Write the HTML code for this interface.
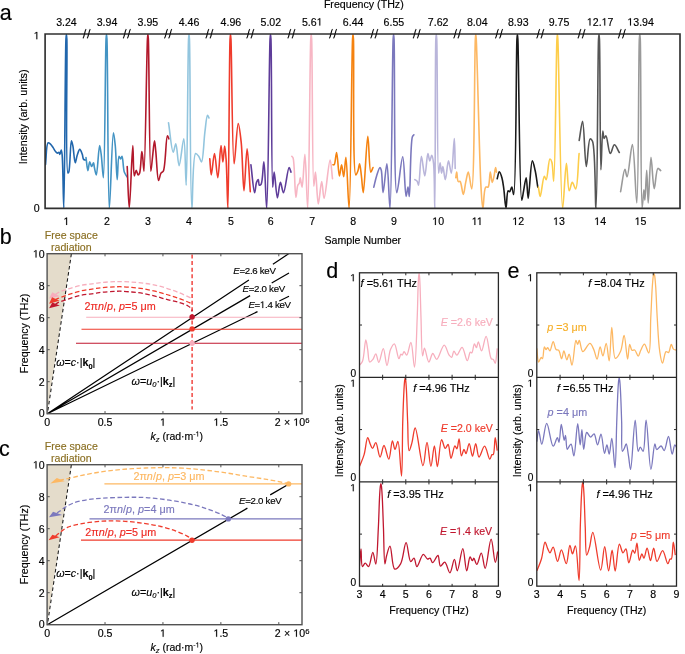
<!DOCTYPE html>
<html><head><meta charset="utf-8"><style>
html,body{margin:0;padding:0;background:#fff;}
svg{display:block;will-change:transform;}
.o1{fill-opacity:0;stroke-opacity:0;}
text{font-family:"Liberation Sans",sans-serif;stroke-width:0.15px;}
</style></head><body>
<svg width="685" height="654" viewBox="0 0 685 654">
<rect width="685" height="654" fill="#fff"/>
<defs><clipPath id="cd"><rect x="359.5" y="272.8" width="138.9" height="313.4"/></clipPath><clipPath id="ce"><rect x="536.8" y="272.8" width="139.7" height="313.4"/></clipPath></defs>
<g clip-path="url(#cd)" fill="none" stroke-width="1.3" stroke-linejoin="round">
<path d="M359.60 365.20 C360.57 363.90 361.68 363.27 362.50 361.30 C364.24 357.14 364.80 339.92 365.80 339.90 C366.48 339.89 367.09 346.16 367.70 349.60 C368.39 353.47 368.27 361.46 369.70 362.00 C370.52 362.31 371.96 360.55 372.90 359.40 C374.06 357.97 374.89 353.74 375.80 353.80 C376.89 353.88 377.72 362.41 378.80 362.40 C380.17 362.39 381.98 348.53 383.30 348.60 C384.74 348.67 385.78 365.50 387.00 365.50 C388.18 365.50 388.84 353.48 390.50 349.60 C391.59 347.06 393.22 343.62 394.40 343.80 C396.16 344.07 397.60 358.62 398.90 358.70 C399.63 358.75 400.17 354.40 400.90 354.20 C401.31 354.08 401.78 355.20 402.20 355.10 C402.87 354.94 403.37 351.65 404.10 351.60 C404.86 351.55 405.86 355.23 406.70 355.10 C408.17 354.86 409.72 342.40 410.90 342.50 C412.52 342.64 413.53 367.24 414.50 367.20 C415.86 367.14 416.59 332.36 417.20 317.80 C417.68 306.27 417.78 294.51 418.10 286.80 C418.29 282.20 418.44 278.13 418.70 275.80 C418.82 274.70 418.97 273.40 419.10 273.40 C419.23 273.40 419.38 274.70 419.50 275.80 C419.76 278.13 419.91 282.20 420.10 286.80 C420.42 294.51 420.61 306.94 421.00 317.80 C421.43 329.85 421.49 355.79 422.60 355.90 C423.11 355.95 423.68 348.12 424.50 348.10 C425.60 348.07 427.24 361.89 428.80 362.00 C430.05 362.09 431.38 353.60 432.80 353.50 C434.03 353.41 435.26 359.47 436.70 359.40 C438.88 359.29 441.99 345.07 444.20 345.10 C446.03 345.13 447.52 353.02 449.10 355.10 C449.98 356.26 450.97 357.59 451.70 357.40 C452.70 357.14 452.94 351.35 453.90 351.20 C454.73 351.07 455.79 355.14 456.90 355.10 C458.43 355.05 460.52 347.13 462.10 347.30 C464.06 347.51 465.83 360.72 467.30 360.70 C468.46 360.68 469.18 352.67 470.30 352.20 C470.78 352.00 471.34 353.11 471.80 352.90 C472.90 352.40 473.47 343.89 474.40 343.80 C475.04 343.74 475.79 347.75 476.40 347.70 C477.12 347.64 477.56 341.81 478.30 341.80 C479.23 341.78 480.46 350.93 481.60 350.90 C483.03 350.87 484.64 336.35 486.10 336.40 C487.89 336.46 489.22 356.38 491.30 358.70 C491.93 359.41 492.73 358.89 493.30 359.40 C494.12 360.13 494.66 363.39 495.20 363.30 C496.20 363.14 496.53 353.30 497.20 348.30" stroke="#f7aebd"/>
<path d="M359.60 466.30 C361.10 462.40 362.82 458.91 364.10 454.60 C365.60 449.54 366.40 437.81 367.70 437.70 C368.53 437.63 369.40 442.29 370.30 444.20 C371.04 445.78 371.77 448.40 372.60 448.40 C373.57 448.41 374.78 442.59 375.80 442.70 C377.34 442.87 378.66 456.97 380.10 457.00 C381.40 457.02 382.62 445.51 384.00 445.50 C385.51 445.49 387.45 459.30 388.80 459.20 C390.32 459.09 391.17 441.06 392.40 441.00 C393.25 440.96 394.07 449.38 395.00 449.40 C395.91 449.42 397.06 441.30 397.90 441.40 C399.61 441.61 400.69 476.13 401.50 476.10 C402.51 476.06 402.26 437.82 402.73 422.35 C403.09 410.60 403.48 399.06 403.90 391.35 C404.15 386.75 404.35 382.68 404.68 380.35 C404.84 379.25 405.03 377.95 405.20 377.95 C405.37 377.95 405.56 379.25 405.72 380.35 C406.05 382.68 406.25 386.75 406.50 391.35 C406.92 399.06 407.22 412.25 407.67 422.35 C408.10 432.01 407.81 450.51 409.10 450.70 C409.80 450.80 411.02 445.95 411.90 442.90 C413.10 438.76 413.89 427.99 415.20 428.00 C417.28 428.01 420.91 465.74 423.00 465.70 C424.64 465.67 425.69 442.29 427.00 442.30 C428.32 442.31 429.62 466.29 430.90 466.30 C432.08 466.30 433.32 445.79 434.40 445.80 C435.49 445.81 436.29 466.59 437.40 466.60 C438.66 466.61 439.80 439.92 441.60 439.70 C442.66 439.57 443.92 448.24 445.20 448.40 C446.12 448.51 447.28 444.32 448.10 444.50 C449.50 444.81 449.84 458.24 451.00 458.30 C452.12 458.35 453.62 445.98 454.90 445.80 C455.57 445.70 456.32 448.91 456.90 448.80 C457.88 448.62 458.43 438.77 459.10 438.80 C459.97 438.84 460.27 455.76 461.40 455.90 C462.12 455.99 463.16 449.43 464.00 449.40 C464.68 449.38 465.32 453.65 466.00 453.60 C467.03 453.53 468.17 443.57 469.20 443.60 C470.35 443.63 471.42 456.20 472.50 456.20 C473.58 456.20 474.63 443.60 475.70 443.60 C476.80 443.60 477.44 456.81 479.00 457.00 C480.46 457.17 482.85 446.11 484.60 446.20 C486.47 446.29 488.39 459.15 489.80 459.20 C490.65 459.23 491.18 455.11 492.00 454.60 C492.41 454.34 492.92 454.94 493.30 454.60 C494.67 453.38 494.50 437.71 495.20 437.70 C495.82 437.69 496.53 446.37 497.20 450.70" stroke="#ef3b2c"/>
<path d="M359.30 567.50 C359.87 561.33 360.48 549.00 361.00 549.00 C361.51 549.00 361.00 566.16 362.40 566.60 C363.10 566.82 364.19 563.25 365.20 563.20 C366.25 563.15 367.59 566.86 368.60 566.60 C370.38 566.15 371.55 552.28 372.80 552.30 C373.93 552.32 374.99 564.17 375.80 564.10 C377.20 563.97 377.70 539.66 378.33 528.10 C378.92 517.39 379.12 504.81 379.55 497.10 C379.81 492.50 380.01 488.43 380.36 486.10 C380.52 485.00 380.72 483.70 380.90 483.70 C381.08 483.70 381.28 485.00 381.44 486.10 C381.79 488.43 381.99 492.50 382.25 497.10 C382.68 504.81 383.04 517.40 383.46 528.10 C383.92 539.58 383.95 563.72 384.90 563.80 C385.36 563.84 385.82 558.49 386.60 555.70 C387.47 552.61 388.91 546.02 390.00 546.10 C391.66 546.22 391.98 568.20 394.70 569.10 C396.28 569.62 398.96 566.50 400.60 563.80 C403.33 559.31 404.37 542.59 406.10 542.60 C407.73 542.61 408.70 561.05 410.70 561.60 C411.69 561.87 413.07 557.99 414.00 558.20 C415.28 558.48 415.60 566.50 416.90 566.60 C418.52 566.72 421.20 554.56 423.30 554.30 C424.72 554.12 426.17 558.64 427.50 559.00 C428.36 559.23 429.26 557.91 430.00 558.20 C431.05 558.60 431.60 562.66 432.60 562.70 C433.80 562.74 435.74 557.73 436.80 556.50 C437.31 555.90 437.70 555.17 438.10 555.30 C439.10 555.61 439.02 565.64 440.50 566.10 C441.57 566.43 443.46 561.85 444.80 562.10 C446.70 562.46 448.36 572.89 449.90 572.80 C451.59 572.70 453.13 559.35 454.40 559.40 C455.56 559.44 456.19 570.80 457.30 570.80 C458.85 570.80 461.23 548.55 462.80 548.60 C464.36 548.65 465.33 570.75 466.70 570.80 C467.79 570.84 468.80 557.21 470.10 557.00 C470.82 556.89 471.74 560.72 472.40 560.70 C472.94 560.69 473.26 558.18 473.80 558.20 C474.63 558.22 475.74 564.44 476.80 564.40 C478.20 564.35 479.97 553.11 481.30 553.20 C482.82 553.30 483.85 568.34 485.20 568.30 C487.07 568.25 489.34 539.18 491.10 539.20 C492.67 539.22 494.04 562.38 495.30 562.40 C496.17 562.42 496.90 555.13 497.70 551.50" stroke="#c0172f"/>
</g>
<g clip-path="url(#ce)" fill="none" stroke-width="1.3" stroke-linejoin="round">
<path d="M536.80 348.30 C537.40 352.87 537.50 361.79 538.60 362.00 C539.28 362.13 540.42 357.51 541.20 357.40 C541.66 357.34 542.12 358.82 542.50 358.70 C543.48 358.38 543.50 346.96 544.40 346.80 C544.86 346.72 545.41 349.54 546.00 349.60 C546.52 349.66 547.12 347.66 547.70 347.70 C548.41 347.75 549.18 350.99 549.90 350.90 C551.04 350.75 552.13 341.60 553.20 341.60 C554.19 341.60 554.77 348.37 556.10 349.60 C556.85 350.29 557.95 349.60 558.70 350.30 C560.06 351.57 560.72 358.72 561.60 358.70 C562.44 358.68 563.07 350.91 563.90 350.90 C564.79 350.89 565.84 359.76 566.80 359.80 C567.57 359.83 568.36 354.15 569.10 354.20 C570.12 354.27 571.07 365.25 572.00 365.20 C573.38 365.13 574.55 340.67 575.90 340.50 C576.46 340.43 577.03 344.40 577.60 344.40 C578.17 344.40 578.68 340.47 579.30 340.50 C580.32 340.55 580.98 351.22 582.80 351.60 C584.56 351.96 587.96 343.25 589.90 343.40 C591.49 343.52 592.66 347.25 593.80 349.60 C595.12 352.34 596.10 359.05 597.10 359.00 C598.22 358.95 599.06 346.83 600.10 346.80 C601.00 346.77 601.96 355.92 602.90 355.90 C604.00 355.88 605.21 343.26 606.20 343.30 C607.36 343.35 608.35 360.94 609.20 360.90 C610.36 360.85 610.76 327.52 611.80 327.50 C612.80 327.48 612.74 357.61 615.30 358.30 C616.67 358.67 619.22 354.22 620.60 351.20 C622.47 347.12 623.03 335.36 624.10 335.40 C625.41 335.45 626.59 359.10 627.60 359.10 C628.39 359.10 628.71 344.62 629.70 344.50 C630.34 344.42 630.87 349.62 632.00 350.30 C632.74 350.75 633.87 349.58 634.70 350.00 C636.04 350.68 637.16 356.15 638.20 356.10 C639.18 356.05 639.80 352.23 640.80 350.30 C641.85 348.26 643.18 344.16 644.40 344.20 C645.84 344.25 647.72 353.22 648.80 353.00 C650.84 352.58 650.17 329.16 650.77 317.80 C651.33 307.14 651.75 294.51 652.30 286.80 C652.63 282.20 652.89 278.12 653.32 275.80 C653.53 274.70 653.77 273.40 654.00 273.40 C654.23 273.40 654.47 274.70 654.68 275.80 C655.11 278.12 655.37 282.20 655.70 286.80 C656.25 294.51 656.58 307.28 657.23 317.80 C657.90 328.73 658.43 342.89 659.70 351.20 C660.47 356.24 661.44 363.17 662.50 363.20 C663.55 363.23 664.42 352.36 666.00 351.60 C666.74 351.24 667.78 352.93 668.50 352.60 C669.79 352.01 670.38 344.54 671.30 344.50 C672.01 344.47 672.38 348.14 673.40 349.10 C674.22 349.88 675.47 349.90 676.50 350.30" stroke="#fdb863"/>
<path d="M536.80 441.60 C537.40 437.93 537.83 430.63 538.60 430.60 C539.46 430.57 540.62 444.20 541.80 444.20 C543.26 444.20 544.86 423.44 546.70 423.40 C548.64 423.36 551.00 446.00 553.20 446.20 C554.59 446.33 556.38 437.64 557.40 437.70 C558.13 437.75 558.51 442.35 559.00 442.30 C559.94 442.20 560.40 424.52 561.30 424.50 C562.15 424.48 563.36 440.27 564.20 440.30 C564.67 440.32 565.10 435.37 565.50 435.40 C566.16 435.45 566.20 449.17 567.20 449.40 C567.67 449.51 568.27 447.65 568.90 446.80 C569.56 445.91 570.45 444.05 571.10 444.20 C572.32 444.49 573.03 455.95 573.90 455.90 C575.33 455.82 576.57 423.70 577.70 423.70 C578.62 423.70 579.46 444.90 580.20 444.90 C580.83 444.90 581.35 429.69 581.90 429.70 C582.52 429.71 582.85 449.36 583.70 449.40 C584.49 449.43 584.95 432.97 586.70 432.50 C587.74 432.22 589.30 437.03 590.60 437.10 C591.76 437.17 593.10 433.54 594.10 433.80 C595.65 434.21 596.34 444.89 597.50 444.90 C598.64 444.91 599.95 434.03 601.00 434.10 C602.37 434.19 603.32 453.24 604.50 453.30 C605.29 453.34 606.13 444.79 606.90 444.80 C607.70 444.81 608.48 454.13 609.20 454.10 C610.14 454.06 610.97 438.28 611.80 438.30 C612.93 438.33 614.20 467.73 615.00 467.70 C615.99 467.67 616.21 436.03 616.73 422.35 C617.16 411.04 617.48 399.06 617.90 391.35 C618.15 386.75 618.35 382.68 618.68 380.35 C618.84 379.25 619.03 377.95 619.20 377.95 C619.37 377.95 619.56 379.25 619.72 380.35 C620.05 382.68 620.25 386.75 620.50 391.35 C620.92 399.06 621.35 412.19 621.67 422.35 C621.98 432.16 621.02 450.89 622.40 451.30 C622.85 451.43 623.55 449.80 624.10 448.80 C624.83 447.47 625.58 443.83 626.20 443.90 C627.14 444.00 627.78 451.78 628.50 455.90 C629.26 460.26 629.86 469.42 630.60 469.40 C632.00 469.36 633.82 420.10 635.20 420.10 C636.30 420.10 636.62 451.01 638.20 451.30 C638.81 451.41 639.50 447.15 640.30 447.10 C641.13 447.05 642.32 451.50 643.10 451.30 C645.05 450.81 644.98 420.10 646.10 420.10 C647.51 420.10 649.16 469.35 650.90 469.40 C652.16 469.44 653.62 444.00 654.90 443.90 C655.51 443.85 655.64 449.18 656.70 449.50 C657.73 449.81 659.85 445.81 661.10 446.00 C662.34 446.19 663.23 450.75 664.20 450.60 C665.79 450.36 667.22 436.44 668.50 436.50 C669.92 436.56 671.00 454.06 672.20 454.10 C673.08 454.13 673.85 444.95 674.80 444.80 C675.34 444.72 675.93 446.53 676.50 447.40" stroke="#7b78bd"/>
<path d="M536.90 570.75 C538.41 566.85 540.14 563.36 541.43 559.05 C542.94 553.99 543.74 542.26 545.05 542.15 C545.88 542.08 546.76 546.74 547.66 548.65 C548.41 550.23 549.14 552.85 549.98 552.85 C550.96 552.86 552.17 547.04 553.19 547.15 C554.74 547.32 556.07 561.42 557.52 561.45 C558.82 561.47 560.06 549.96 561.44 549.95 C562.96 549.94 564.91 563.75 566.27 563.65 C567.80 563.54 568.65 545.52 569.89 545.45 C570.74 545.40 571.57 553.83 572.50 553.85 C573.42 553.87 574.57 545.75 575.42 545.85 C577.14 546.06 578.22 580.58 579.04 580.55 C580.06 580.51 579.82 542.34 580.29 526.90 C580.65 515.16 581.04 503.61 581.46 495.90 C581.71 491.30 581.91 487.23 582.24 484.90 C582.40 483.80 582.59 482.50 582.76 482.50 C582.93 482.50 583.12 483.80 583.28 484.90 C583.61 487.23 583.81 491.30 584.06 495.90 C584.48 503.61 584.78 516.81 585.23 526.90 C585.66 536.54 585.39 554.96 586.69 555.15 C587.39 555.25 588.62 550.40 589.50 547.35 C590.70 543.21 591.51 532.44 592.82 532.45 C594.91 532.46 598.56 570.19 600.67 570.15 C602.32 570.12 603.37 546.74 604.69 546.75 C606.02 546.76 607.32 570.74 608.61 570.75 C609.80 570.75 611.04 550.24 612.13 550.25 C613.22 550.26 614.03 571.04 615.15 571.05 C616.42 571.06 617.56 544.37 619.37 544.15 C620.44 544.02 621.70 552.69 622.99 552.85 C623.92 552.97 625.09 548.77 625.91 548.95 C627.31 549.26 627.66 562.69 628.83 562.75 C629.95 562.80 631.46 550.44 632.75 550.25 C633.43 550.15 634.18 553.36 634.76 553.25 C635.74 553.06 636.30 543.22 636.97 543.25 C637.85 543.29 638.15 560.21 639.29 560.35 C640.01 560.44 641.06 553.88 641.90 553.85 C642.59 553.83 643.23 558.10 643.91 558.05 C644.95 557.98 646.10 548.02 647.13 548.05 C648.28 548.08 649.36 560.65 650.45 560.65 C651.54 560.65 652.60 548.05 653.67 548.05 C654.78 548.05 655.42 561.26 656.99 561.45 C658.46 561.63 660.86 550.56 662.62 550.65 C664.50 550.74 666.43 563.60 667.85 563.65 C668.71 563.68 669.24 559.57 670.06 559.05 C670.48 558.79 670.99 559.39 671.37 559.05 C672.74 557.83 672.58 542.16 673.28 542.15 C673.90 542.14 674.62 550.82 675.29 555.15" stroke="#ef3b2c"/>
</g>
<defs><clipPath id="ca"><rect x="45.1" y="34.0" width="634.9" height="175.1"/></clipPath></defs>
<g clip-path="url(#ca)" fill="none" stroke-width="1.6" stroke-linejoin="round" stroke-linecap="round">
<path d="M45.50 164.70 C46.37 157.40 46.19 143.79 48.10 142.80 C48.77 142.45 49.74 143.44 50.50 144.10 C51.50 144.97 52.44 146.62 53.30 147.90 C54.13 149.13 54.80 150.68 55.60 151.60 C56.18 152.27 56.81 153.05 57.40 153.10 C57.91 153.14 58.50 152.08 58.90 152.20 C59.37 152.35 59.57 154.42 59.90 154.40 C60.35 154.37 60.83 150.08 61.20 150.10 C61.56 150.12 61.83 152.15 62.10 154.40 C63.04 162.27 63.29 208.00 63.80 208.00 C64.70 207.99 65.08 55.10 65.95 39.00 C66.10 36.31 66.25 34.30 66.40 34.30 C66.55 34.30 66.71 36.36 66.85 39.00 C67.58 53.09 65.15 171.96 67.90 173.00 C68.18 173.10 68.52 172.65 68.80 172.00 C70.15 168.88 70.30 140.91 71.40 140.80 C71.86 140.75 72.42 143.75 72.90 146.00 C73.74 149.98 74.30 162.74 75.20 162.80 C75.81 162.84 76.38 157.62 77.20 155.30 C77.94 153.18 78.92 149.42 79.80 149.40 C80.62 149.38 81.66 152.70 82.30 154.40 C82.91 156.04 82.82 158.57 83.60 159.40 C84.07 159.91 84.80 159.80 85.40 160.00" stroke="#2166ac"/>
<path d="M86.00 157.60 C86.63 161.93 87.21 170.58 87.90 170.60 C88.46 170.62 88.96 161.97 89.70 161.90 C90.25 161.85 90.94 166.47 91.60 166.50 C92.21 166.53 93.04 162.73 93.50 162.80 C94.00 162.87 94.01 165.76 94.40 167.50 C94.89 169.69 95.69 174.94 96.30 174.90 C97.50 174.82 98.58 145.63 99.60 145.60 C100.19 145.58 100.77 151.39 101.30 155.30 C102.09 161.21 102.80 177.72 103.40 177.70 C104.89 177.64 105.23 53.37 106.05 39.00 C106.20 36.35 106.35 34.30 106.50 34.30 C106.65 34.30 106.80 36.31 106.95 39.00 C107.83 55.13 107.76 208.47 109.30 208.50 C110.33 208.52 111.93 132.97 113.40 132.90 C114.02 132.87 114.76 140.61 115.30 146.00 C116.16 154.60 116.52 179.59 117.20 179.60 C117.77 179.61 117.83 156.56 119.00 156.30 C119.42 156.21 120.00 159.00 120.50 159.00 C121.00 159.00 121.55 156.22 122.00 156.30 C123.02 156.49 123.04 168.46 124.30 172.10 C125.03 174.22 126.10 175.23 127.00 176.80" stroke="#4393c3"/>
<path d="M127.20 166.50 C127.90 180.33 128.49 208.00 129.30 208.00 C130.30 208.00 131.90 145.60 132.80 145.60 C133.43 145.60 133.15 175.74 134.30 175.90 C134.81 175.97 135.54 170.32 136.20 170.30 C136.81 170.28 137.41 174.79 138.10 174.90 C138.57 174.97 139.16 174.14 139.60 173.10 C140.92 169.95 141.16 151.62 141.80 151.60 C142.13 151.59 142.41 154.91 142.70 157.20 C143.16 160.81 143.58 171.21 144.00 171.20 C145.28 171.16 146.60 52.98 147.45 39.00 C147.61 36.36 147.75 34.30 147.90 34.30 C148.05 34.30 148.20 36.36 148.35 39.00 C149.15 52.98 149.26 171.12 150.80 171.20 C151.32 171.23 151.99 161.32 152.60 156.30 C153.22 151.18 153.93 140.80 154.50 140.80 C154.98 140.80 155.31 147.13 155.80 151.60 C156.59 158.91 157.26 180.35 158.60 180.50 C159.29 180.58 159.93 174.67 161.00 173.10 C161.66 172.12 162.62 172.46 163.30 171.20 C165.67 166.85 165.86 135.95 167.40 135.70 C167.88 135.62 168.40 137.83 168.90 138.90" stroke="#b2182b"/>
<path d="M168.50 122.70 C170.07 132.53 171.61 152.09 173.20 152.20 C174.06 152.26 175.00 143.74 175.80 143.80 C177.07 143.90 177.85 165.59 179.10 165.60 C180.48 165.62 182.65 138.83 183.80 138.90 C185.31 138.99 185.53 185.21 186.20 185.20 C187.39 185.18 187.72 53.81 188.55 39.00 C188.70 36.34 188.85 34.30 189.00 34.30 C189.15 34.30 189.30 36.31 189.45 39.00 C190.33 55.10 190.10 207.95 191.80 208.00 C192.77 208.03 192.40 154.79 195.60 153.50 C196.49 153.14 197.79 155.10 198.70 156.30 C199.82 157.77 200.70 162.04 201.50 161.90 C203.26 161.59 203.76 140.53 204.90 132.00 C205.76 125.59 206.43 115.38 207.50 115.20 C207.96 115.12 208.50 117.07 209.00 118.00" stroke="#92c5de"/>
<path d="M209.80 158.70 C210.30 164.10 210.60 174.88 211.30 174.90 C212.10 174.92 213.45 153.49 214.50 153.50 C215.62 153.51 216.78 177.72 217.80 177.70 C218.97 177.68 220.04 145.61 221.00 145.60 C221.69 145.59 222.28 161.90 222.90 161.90 C223.51 161.90 224.14 146.00 224.70 146.00 C225.24 146.00 225.77 154.52 226.20 160.90 C226.97 172.28 227.40 208.51 227.90 208.50 C228.85 208.49 229.18 55.13 230.05 39.00 C230.20 36.31 230.35 34.30 230.50 34.30 C230.65 34.30 230.79 36.37 230.95 39.00 C231.77 52.51 232.19 163.63 234.10 163.70 C235.19 163.74 236.78 123.64 238.20 123.60 C239.17 123.57 240.36 134.58 241.20 142.30 C242.54 154.66 242.98 190.79 244.00 190.80 C244.95 190.81 246.06 148.80 247.10 148.80 C248.16 148.80 249.23 177.40 250.30 191.70" stroke="#ef3b2c"/>
<path d="M250.90 164.70 C252.13 174.03 253.49 192.67 254.60 192.70 C255.28 192.72 255.59 184.70 256.50 182.40 C257.01 181.11 257.85 179.51 258.30 179.60 C258.89 179.72 258.54 184.82 259.30 185.20 C259.75 185.43 260.57 185.04 261.10 184.30 C262.86 181.81 263.08 161.87 263.90 161.90 C265.07 161.94 265.89 208.52 266.70 208.50 C268.25 208.47 269.12 55.13 270.05 39.00 C270.21 36.31 270.35 34.30 270.50 34.30 C270.65 34.30 270.81 36.34 270.95 39.00 C271.75 53.92 271.37 187.04 272.70 187.10 C273.12 187.12 273.57 172.11 274.20 172.10 C275.03 172.09 276.21 197.86 277.40 197.90 C278.33 197.93 279.26 182.46 280.40 182.40 C281.34 182.35 282.40 192.74 283.50 192.70 C285.21 192.64 287.53 167.64 289.10 167.50 C289.79 167.44 290.37 170.57 291.00 172.10" stroke="#5e3c99"/>
<path d="M291.80 156.30 C292.23 156.90 292.71 157.02 293.10 158.10 C294.75 162.65 294.84 197.26 295.90 197.30 C296.49 197.33 296.83 187.43 297.80 185.20 C298.23 184.21 298.92 184.16 299.30 183.30 C299.88 181.98 299.82 177.71 300.20 177.70 C300.70 177.69 301.51 187.13 302.10 187.10 C303.19 187.04 304.06 154.39 304.90 154.40 C305.98 154.42 306.90 208.51 307.70 208.50 C309.12 208.48 309.83 55.13 310.75 39.00 C310.90 36.31 311.05 34.30 311.20 34.30 C311.35 34.30 311.50 36.34 311.65 39.00 C312.47 53.87 312.23 186.02 313.80 186.10 C314.29 186.13 314.91 172.09 315.50 172.10 C316.38 172.11 317.14 203.86 318.30 203.90 C319.27 203.93 320.68 181.50 321.70 181.50 C322.58 181.50 323.09 198.29 324.10 198.30 C325.62 198.31 328.60 159.98 330.10 160.00 C331.14 160.01 331.70 172.47 332.50 178.70" stroke="#f7b6c4"/>
<path d="M332.90 164.70 C333.33 164.70 333.81 165.02 334.20 164.70 C335.41 163.71 335.85 152.47 336.60 152.50 C337.63 152.54 338.40 175.86 339.40 175.90 C340.10 175.93 340.90 164.69 341.60 164.70 C342.33 164.71 343.05 176.82 343.70 176.80 C344.52 176.78 345.19 157.18 345.90 157.20 C347.04 157.23 348.19 208.52 349.10 208.50 C350.76 208.47 351.62 55.13 352.55 39.00 C352.71 36.31 352.85 34.30 353.00 34.30 C353.15 34.30 353.30 36.35 353.45 39.00 C354.25 53.20 352.37 174.12 355.80 174.90 C356.47 175.05 357.49 172.01 358.10 170.30 C358.80 168.34 359.12 163.68 359.60 163.70 C360.24 163.72 360.83 171.50 361.40 175.90 C362.07 181.05 362.60 192.71 363.30 192.70 C364.58 192.68 366.44 136.30 367.80 136.30 C368.89 136.30 369.11 171.79 370.80 172.10 C371.44 172.22 372.27 169.03 373.00 167.50" stroke="#f5820f"/>
<path d="M373.80 187.10 C374.73 183.37 375.48 179.33 376.60 175.90 C377.59 172.86 379.11 167.52 380.00 167.50 C380.52 167.49 380.92 168.87 381.30 170.30 C382.32 174.16 382.26 192.68 383.10 192.70 C384.06 192.72 385.83 163.67 386.90 163.70 C388.23 163.74 389.13 208.52 390.00 208.50 C391.68 208.46 392.23 55.13 393.15 39.00 C393.30 36.31 393.45 34.30 393.60 34.30 C393.75 34.30 393.90 36.33 394.05 39.00 C394.91 54.25 393.78 192.48 396.80 192.70 C398.27 192.81 401.16 156.74 402.70 156.80 C404.30 156.86 404.86 196.33 406.10 196.40 C406.71 196.44 407.47 187.08 408.00 187.10 C408.53 187.12 408.87 196.42 409.30 196.40 C410.38 196.35 410.16 142.65 412.40 136.70 C412.85 135.50 413.40 135.43 413.90 134.80" stroke="#7b78bd"/>
<path d="M414.90 179.60 C415.70 180.23 416.70 180.65 417.30 181.50 C417.98 182.46 418.19 185.25 418.60 185.20 C419.71 185.07 420.23 156.34 421.40 156.30 C422.37 156.26 423.75 175.92 424.80 175.90 C425.92 175.88 426.83 153.56 427.90 153.50 C428.52 153.46 429.12 160.87 429.80 160.90 C430.40 160.92 431.12 155.27 431.70 155.30 C432.37 155.33 433.02 159.21 433.50 162.80 C434.66 171.55 434.45 208.50 434.80 208.50 C435.47 208.49 435.03 55.13 435.85 39.00 C435.99 36.31 436.15 34.30 436.30 34.30 C436.45 34.30 436.61 36.36 436.75 39.00 C437.52 53.09 437.06 173.00 438.60 173.10 C439.03 173.13 439.60 162.80 440.10 162.80 C440.60 162.80 441.08 173.09 441.60 173.10 C442.02 173.11 442.41 166.50 442.90 166.50 C443.59 166.50 444.46 179.60 445.30 179.60 C446.31 179.59 447.39 160.93 448.50 160.90 C449.40 160.87 450.49 173.16 451.30 173.10 C452.65 173.01 453.65 138.48 454.30 138.50 C454.90 138.52 454.90 158.43 455.20 168.40" stroke="#b9b5da"/>
<path d="M455.80 177.70 C456.10 175.83 456.36 172.10 456.70 172.10 C457.14 172.10 457.07 180.53 458.20 181.50 C458.71 181.93 459.53 181.05 460.10 181.50 C461.61 182.69 462.35 194.52 463.30 194.50 C464.21 194.48 464.83 186.26 465.70 182.40 C466.51 178.82 467.42 172.08 468.30 172.10 C469.42 172.13 470.75 188.98 471.70 188.90 C474.51 188.65 474.45 54.03 475.35 39.00 C475.51 36.33 475.65 34.30 475.80 34.30 C475.95 34.30 476.08 36.34 476.25 39.00 C477.20 53.92 479.36 159.92 481.00 187.10 C481.62 197.45 482.12 208.48 482.90 208.50 C483.68 208.52 483.67 188.88 485.70 187.10 C486.38 186.51 487.44 187.67 488.10 187.10 C489.75 185.68 489.55 172.11 490.30 172.10 C490.92 172.09 491.48 182.36 492.20 182.40 C492.78 182.43 493.56 178.22 494.10 175.90 C494.71 173.29 495.15 167.50 495.60 167.50 C495.93 167.50 496.20 170.57 496.50 172.10" stroke="#fdb863"/>
<path d="M497.20 178.70 C497.90 176.40 498.49 171.85 499.30 171.80 C500.07 171.75 501.20 175.37 501.90 177.70 C502.83 180.79 503.20 184.66 503.80 188.90 C504.58 194.41 505.26 208.00 506.00 208.00 C506.70 208.00 506.74 191.47 508.10 190.80 C508.53 190.59 509.13 191.84 509.60 191.70 C510.41 191.46 511.16 187.04 511.80 187.10 C512.58 187.18 513.14 194.57 513.70 194.50 C516.24 194.21 516.06 54.35 516.95 39.00 C517.11 36.33 517.25 34.30 517.40 34.30 C517.55 34.30 517.69 36.32 517.85 39.00 C518.79 54.66 519.35 199.89 521.70 200.10 C522.27 200.15 522.92 194.17 523.60 190.80 C524.40 186.81 525.48 177.66 526.20 177.70 C527.10 177.74 527.39 198.29 528.20 198.30 C529.30 198.31 530.63 161.05 532.30 160.90 C533.15 160.82 534.27 166.68 535.10 170.30 C536.19 175.06 536.90 181.50 537.80 187.10" stroke="#1a1a1a"/>
<path d="M538.40 187.10 C539.00 190.20 539.47 196.40 540.20 196.40 C541.28 196.40 542.87 176.42 544.30 176.20 C544.92 176.10 545.60 179.70 546.20 179.60 C547.60 179.37 548.44 159.30 549.90 159.00 C550.50 158.88 551.28 160.41 551.80 161.90 C553.04 165.41 553.13 181.12 553.70 181.10 C555.25 181.04 556.09 53.57 556.95 39.00 C557.11 36.34 557.25 34.30 557.40 34.30 C557.55 34.30 557.68 36.31 557.85 39.00 C558.85 55.13 560.45 208.44 562.60 208.50 C563.71 208.53 565.17 163.21 566.40 163.20 C567.36 163.19 567.70 190.61 569.20 190.80 C570.05 190.91 571.15 182.47 572.30 182.40 C573.34 182.33 574.76 189.08 575.70 188.90 C577.77 188.50 577.97 165.30 579.10 153.50" stroke="#fdcd4a"/>
<path d="M579.20 140.40 C580.33 134.07 581.60 121.35 582.60 121.40 C584.14 121.47 584.85 166.46 586.30 166.50 C587.44 166.53 588.07 139.58 590.10 138.90 C590.81 138.66 591.80 139.72 592.50 141.30 C595.62 148.32 595.08 208.52 596.00 208.50 C597.46 208.47 597.66 55.13 598.55 39.00 C598.70 36.31 598.85 34.30 599.00 34.30 C599.15 34.30 599.31 36.36 599.45 39.00 C600.19 52.90 599.98 169.88 600.90 169.90 C601.40 169.91 601.92 131.15 602.80 131.10 C603.19 131.08 603.39 138.36 604.10 138.50 C604.58 138.60 605.29 135.60 605.90 135.70 C607.33 135.94 608.60 153.33 610.30 153.50 C611.54 153.62 612.88 144.80 614.40 144.70 C615.88 144.61 617.67 149.90 619.30 152.50" stroke="#555555"/>
<path d="M620.60 191.70 C622.03 184.23 623.58 169.36 624.90 169.30 C625.67 169.26 626.32 176.85 627.10 176.80 C628.69 176.70 630.92 144.44 632.40 144.50 C634.38 144.59 635.69 202.93 636.80 202.90 C638.65 202.84 638.47 54.82 639.35 39.00 C639.50 36.32 639.65 34.30 639.80 34.30 C639.95 34.30 640.11 36.31 640.25 39.00 C641.11 55.10 640.57 207.93 642.10 208.00 C642.60 208.02 643.39 189.90 643.90 189.90 C644.28 189.90 644.56 200.11 644.90 200.10 C645.48 200.09 646.16 170.30 646.70 170.30 C647.27 170.30 647.57 202.90 648.20 202.90 C648.95 202.91 649.87 157.42 651.00 157.40 C651.93 157.38 652.88 188.55 654.20 188.60 C655.27 188.64 655.95 169.14 657.90 168.40 C658.71 168.09 659.77 169.87 660.70 170.60" stroke="#9a9a9a"/>
</g>
<path d="M45.1 34.0 V208.3 H680.0 V34.0 H45.1 Z" fill="none" stroke="#303030" stroke-width="1.65"/>
<path d="M82.90 38.40 C84.30 37.20 84.70 30.60 86.10 29.20" fill="none" stroke="#111" stroke-width="1.2"/>
<path d="M87.10 38.40 C88.50 37.20 88.90 30.60 90.30 29.20" fill="none" stroke="#111" stroke-width="1.2"/>
<path d="M123.10 38.40 C124.50 37.20 124.90 30.60 126.30 29.20" fill="none" stroke="#111" stroke-width="1.2"/>
<path d="M127.30 38.40 C128.70 37.20 129.10 30.60 130.50 29.20" fill="none" stroke="#111" stroke-width="1.2"/>
<path d="M164.40 38.40 C165.80 37.20 166.20 30.60 167.60 29.20" fill="none" stroke="#111" stroke-width="1.2"/>
<path d="M168.60 38.40 C170.00 37.20 170.40 30.60 171.80 29.20" fill="none" stroke="#111" stroke-width="1.2"/>
<path d="M205.70 38.40 C207.10 37.20 207.50 30.60 208.90 29.20" fill="none" stroke="#111" stroke-width="1.2"/>
<path d="M209.90 38.40 C211.30 37.20 211.70 30.60 213.10 29.20" fill="none" stroke="#111" stroke-width="1.2"/>
<path d="M246.60 38.40 C248.00 37.20 248.40 30.60 249.80 29.20" fill="none" stroke="#111" stroke-width="1.2"/>
<path d="M250.80 38.40 C252.20 37.20 252.60 30.60 254.00 29.20" fill="none" stroke="#111" stroke-width="1.2"/>
<path d="M287.70 38.40 C289.10 37.20 289.50 30.60 290.90 29.20" fill="none" stroke="#111" stroke-width="1.2"/>
<path d="M291.90 38.40 C293.30 37.20 293.70 30.60 295.10 29.20" fill="none" stroke="#111" stroke-width="1.2"/>
<path d="M329.30 38.40 C330.70 37.20 331.10 30.60 332.50 29.20" fill="none" stroke="#111" stroke-width="1.2"/>
<path d="M333.50 38.40 C334.90 37.20 335.30 30.60 336.70 29.20" fill="none" stroke="#111" stroke-width="1.2"/>
<path d="M370.60 38.40 C372.00 37.20 372.40 30.60 373.80 29.20" fill="none" stroke="#111" stroke-width="1.2"/>
<path d="M374.80 38.40 C376.20 37.20 376.60 30.60 378.00 29.20" fill="none" stroke="#111" stroke-width="1.2"/>
<path d="M413.00 38.40 C414.40 37.20 414.80 30.60 416.20 29.20" fill="none" stroke="#111" stroke-width="1.2"/>
<path d="M417.20 38.40 C418.60 37.20 419.00 30.60 420.40 29.20" fill="none" stroke="#111" stroke-width="1.2"/>
<path d="M453.60 38.40 C455.00 37.20 455.40 30.60 456.80 29.20" fill="none" stroke="#111" stroke-width="1.2"/>
<path d="M457.80 38.40 C459.20 37.20 459.60 30.60 461.00 29.20" fill="none" stroke="#111" stroke-width="1.2"/>
<path d="M495.30 38.40 C496.70 37.20 497.10 30.60 498.50 29.20" fill="none" stroke="#111" stroke-width="1.2"/>
<path d="M499.50 38.40 C500.90 37.20 501.30 30.60 502.70 29.20" fill="none" stroke="#111" stroke-width="1.2"/>
<path d="M536.60 38.40 C538.00 37.20 538.40 30.60 539.80 29.20" fill="none" stroke="#111" stroke-width="1.2"/>
<path d="M540.80 38.40 C542.20 37.20 542.60 30.60 544.00 29.20" fill="none" stroke="#111" stroke-width="1.2"/>
<path d="M577.80 38.40 C579.20 37.20 579.60 30.60 581.00 29.20" fill="none" stroke="#111" stroke-width="1.2"/>
<path d="M582.00 38.40 C583.40 37.20 583.80 30.60 585.20 29.20" fill="none" stroke="#111" stroke-width="1.2"/>
<path d="M618.10 38.40 C619.50 37.20 619.90 30.60 621.30 29.20" fill="none" stroke="#111" stroke-width="1.2"/>
<path d="M622.30 38.40 C623.70 37.20 624.10 30.60 625.50 29.20" fill="none" stroke="#111" stroke-width="1.2"/>
<path d="M47.10 413.70 L47.10 253.70 L71.40 253.70 Z" fill="#e4dccb"/>
<path d="M71.40 253.70 L47.40 413.70" stroke="#1a1a1a" stroke-width="1.05" stroke-dasharray="3.6 2.6" fill="none"/>
<path d="M47.10 624.70 L47.10 464.70 L71.40 464.70 Z" fill="#e4dccb"/>
<path d="M71.40 464.70 L47.40 624.70" stroke="#1a1a1a" stroke-width="1.05" stroke-dasharray="3.6 2.6" fill="none"/>
<path d="M47.30 413.70 L248.90 280.10 M272.90 264.19 L288.60 253.79 M47.30 413.70 L250.10 295.59 M271.70 283.01 L289.00 272.93 M47.30 413.70 L257.50 311.61 M279.30 301.02 L289.00 296.31" stroke="#000" stroke-width="1.25" fill="none"/>
<path d="M86.2 317.3 H302" stroke="#f7aebd" stroke-width="1.1"/>
<path d="M81.5 329.2 H302" stroke="#ef3b2c" stroke-width="1.1"/>
<path d="M76 343.2 H302" stroke="#c0172f" stroke-width="1.1"/>
<path d="M192.1 254.5 V409.5" stroke="#ee2a24" stroke-width="1.3" stroke-dasharray="4 2.6"/>
<path d="M55.50 294.60 C56.53 293.87 57.24 293.12 58.60 292.40 C60.73 291.27 64.15 290.15 67.40 289.10 C71.31 287.83 76.07 286.42 80.50 285.50 C84.94 284.58 90.03 284.16 94.00 283.60 C97.13 283.16 99.36 282.71 102.40 282.40 C105.97 282.04 110.86 281.82 114.10 281.70 C116.40 281.61 117.70 281.57 120.00 281.60 C123.24 281.64 127.80 281.83 131.70 282.10 C135.60 282.37 139.52 282.70 143.40 283.20 C147.28 283.70 151.15 284.26 155.00 285.10 C158.91 285.95 162.82 287.09 166.70 288.30 C170.62 289.52 174.53 290.87 178.40 292.40 C182.33 293.96 187.95 296.62 190.10 297.60 C190.92 297.98 191.23 298.13 191.80 298.40" stroke="#f7aebd" stroke-width="1.3" fill="none" stroke-dasharray="4.6 2.5"/><path d="M49.10 298.40 L52.29 292.15 L59.84 296.28 Z" fill="#f7aebd"/>
<path d="M55.00 299.80 C56.00 299.33 56.71 298.93 58.00 298.40 C60.25 297.47 63.99 296.14 67.40 295.00 C71.39 293.67 76.07 292.03 80.50 291.00 C84.93 289.97 90.03 289.41 94.00 288.80 C97.13 288.32 99.36 287.91 102.40 287.60 C105.97 287.24 110.86 287.05 114.10 286.90 C116.40 286.79 117.70 286.67 120.00 286.70 C123.24 286.74 127.81 287.05 131.70 287.40 C135.61 287.75 139.52 288.17 143.40 288.80 C147.29 289.43 151.14 290.26 155.00 291.20 C158.91 292.15 162.81 293.34 166.70 294.50 C170.61 295.67 174.53 296.81 178.40 298.20 C182.33 299.61 187.96 301.91 190.10 302.90 C190.94 303.29 191.23 303.50 191.80 303.80" stroke="#ef3b2c" stroke-width="1.3" fill="none" stroke-dasharray="4.6 2.5"/><path d="M49.10 303.70 L52.05 297.33 L59.48 300.87 Z" fill="#ef3b2c"/>
<path d="M55.20 304.60 C56.13 303.93 56.73 303.26 58.00 302.60 C60.16 301.48 63.99 300.42 67.40 299.30 C71.39 297.99 76.06 296.27 80.50 295.30 C84.93 294.34 90.03 294.07 94.00 293.50 C97.13 293.05 99.36 292.54 102.40 292.20 C105.97 291.80 110.86 291.57 114.10 291.40 C116.40 291.28 117.70 291.16 120.00 291.20 C123.24 291.26 127.81 291.62 131.70 292.00 C135.61 292.38 139.52 292.82 143.40 293.50 C147.29 294.18 151.14 295.12 155.00 296.10 C158.91 297.09 162.79 298.36 166.70 299.40 C170.59 300.43 174.75 301.17 178.40 302.30 C181.71 303.33 185.32 304.39 187.70 305.80 C189.46 306.84 191.24 308.15 191.80 309.30 C192.16 310.04 191.87 310.77 191.90 311.50" stroke="#c0172f" stroke-width="1.3" fill="none" stroke-dasharray="4.6 2.5"/><path d="M49.10 308.30 L52.29 302.40 L59.84 305.47 Z" fill="#c0172f"/>
<circle cx="192.1" cy="317.0" r="2.7" fill="#c0172f"/>
<circle cx="192.1" cy="328.9" r="2.7" fill="#ef3b2c"/>
<circle cx="192.1" cy="343.2" r="2.7" fill="#f7aebd"/>
<path d="M47.30 624.70 L247.40 508.16 M270.20 494.88 L288.60 484.17" stroke="#000" stroke-width="1.25" fill="none"/>
<path d="M104.4 483.9 H302" stroke="#fdb863" stroke-width="1.2"/>
<path d="M89.5 518.9 H302" stroke="#7b78bd" stroke-width="1.2"/>
<path d="M81 540.2 H302" stroke="#ef3b2c" stroke-width="1.2"/>
<path d="M59.50 480.30 C62.37 479.73 64.90 479.30 68.10 478.60 C72.19 477.71 76.99 476.34 82.00 475.30 C87.82 474.09 94.66 472.85 101.00 471.90 C107.30 470.95 113.58 470.20 119.90 469.60 C126.22 469.00 132.56 468.62 138.90 468.30 C145.23 467.98 152.28 467.79 157.90 467.70 C162.39 467.63 165.51 467.59 170.00 467.70 C175.62 467.83 182.67 468.13 189.00 468.60 C195.34 469.07 201.68 469.77 208.00 470.50 C214.31 471.23 220.60 472.05 226.90 473.00 C233.23 473.95 239.56 475.18 245.90 476.20 C252.23 477.22 258.93 478.09 264.90 479.10 C270.26 480.00 275.77 481.02 280.10 481.90 C283.35 482.56 285.77 483.17 288.60 483.80" stroke="#fdb863" stroke-width="1.3" fill="none" stroke-dasharray="4.6 2.5"/><path d="M50.30 483.60 L56.79 478.05 L64.81 481.24 Z" fill="#fdb863"/>
<path d="M57.00 513.20 C59.53 511.33 61.92 509.27 64.60 507.60 C67.32 505.90 69.87 504.35 73.20 503.10 C77.35 501.55 82.90 500.42 87.80 499.60 C92.64 498.79 96.96 498.57 102.40 498.20 C109.28 497.74 118.27 497.39 125.80 497.30 C132.83 497.22 139.19 497.16 146.20 497.60 C153.72 498.07 162.00 499.09 169.50 500.20 C176.57 501.25 183.47 502.47 190.00 504.00 C196.10 505.43 201.98 507.12 207.50 509.00 C212.63 510.75 218.27 513.00 222.10 514.80 C224.71 516.03 226.37 517.13 228.50 518.30" stroke="#7b78bd" stroke-width="1.3" fill="none" stroke-dasharray="4.6 2.5"/><path d="M49.00 517.20 L53.01 511.77 L62.22 515.08 Z" fill="#7b78bd"/>
<path d="M55.50 536.20 C57.40 534.60 59.21 532.87 61.20 531.40 C63.18 529.94 64.78 528.55 67.40 527.40 C71.14 525.76 76.69 524.60 82.00 523.60 C88.20 522.43 95.59 521.60 102.40 521.20 C109.19 520.80 116.00 520.85 122.80 521.20 C129.63 521.55 136.75 522.37 143.30 523.30 C149.38 524.17 155.27 525.16 160.80 526.50 C165.92 527.74 170.85 529.21 175.40 530.90 C179.57 532.45 184.04 534.41 187.10 536.10 C189.24 537.29 190.57 538.43 192.30 539.60" stroke="#ef3b2c" stroke-width="1.3" fill="none" stroke-dasharray="4.6 2.5"/><path d="M48.50 540.20 L52.39 534.65 L59.71 537.37 Z" fill="#ef3b2c"/>
<circle cx="288.6" cy="483.9" r="2.7" fill="#fdb863"/>
<circle cx="228.3" cy="518.9" r="2.7" fill="#7b78bd"/>
<circle cx="192" cy="540.2" r="2.7" fill="#ef3b2c"/>
<path d="M105.03 413.70 v-2.6 M105.03 253.70 v2.6 M162.95 413.70 v-2.6 M162.95 253.70 v2.6 M220.87 413.70 v-2.6 M220.87 253.70 v2.6 M278.80 413.70 v-2.6 M278.80 253.70 v2.6 M47.10 381.70 h2.6 M302.00 381.70 h-2.6 M47.10 349.70 h2.6 M302.00 349.70 h-2.6 M47.10 317.70 h2.6 M302.00 317.70 h-2.6 M47.10 285.70 h2.6 M302.00 285.70 h-2.6" stroke="#525252" stroke-width="1" fill="none"/>
<rect x="47.10" y="253.70" width="254.90" height="160.00" fill="none" stroke="#525252" stroke-width="1.4"/>
<path d="M105.03 624.70 v-2.6 M105.03 464.70 v2.6 M162.95 624.70 v-2.6 M162.95 464.70 v2.6 M220.87 624.70 v-2.6 M220.87 464.70 v2.6 M278.80 624.70 v-2.6 M278.80 464.70 v2.6 M47.10 592.70 h2.6 M302.00 592.70 h-2.6 M47.10 560.70 h2.6 M302.00 560.70 h-2.6 M47.10 528.70 h2.6 M302.00 528.70 h-2.6 M47.10 496.70 h2.6 M302.00 496.70 h-2.6" stroke="#525252" stroke-width="1" fill="none"/>
<rect x="47.10" y="464.70" width="254.90" height="160.00" fill="none" stroke="#525252" stroke-width="1.4"/>
<path d="M382.65 272.80 v2.5 M382.65 377.25 v-2.5 M405.80 272.80 v2.5 M405.80 377.25 v-2.5 M428.95 272.80 v2.5 M428.95 377.25 v-2.5 M452.10 272.80 v2.5 M452.10 377.25 v-2.5 M475.25 272.80 v2.5 M475.25 377.25 v-2.5 M359.50 325.03 h2.5 M498.40 325.03 h-2.5 M382.65 377.35 v2.5 M382.65 481.80 v-2.5 M405.80 377.35 v2.5 M405.80 481.80 v-2.5 M428.95 377.35 v2.5 M428.95 481.80 v-2.5 M452.10 377.35 v2.5 M452.10 481.80 v-2.5 M475.25 377.35 v2.5 M475.25 481.80 v-2.5 M359.50 429.58 h2.5 M498.40 429.58 h-2.5 M382.65 481.90 v2.5 M382.65 586.35 v-2.5 M405.80 481.90 v2.5 M405.80 586.35 v-2.5 M428.95 481.90 v2.5 M428.95 586.35 v-2.5 M452.10 481.90 v2.5 M452.10 586.35 v-2.5 M475.25 481.90 v2.5 M475.25 586.35 v-2.5 M359.50 534.12 h2.5 M498.40 534.12 h-2.5" stroke="#282828" stroke-width="1" fill="none"/>
<rect x="359.50" y="272.80" width="138.90" height="313.35" fill="none" stroke="#282828" stroke-width="1.3"/>
<path d="M359.50 377.35 H498.40 M359.50 481.90 H498.40" stroke="#282828" stroke-width="1.3"/>
<path d="M560.08 272.80 v2.5 M560.08 377.25 v-2.5 M583.37 272.80 v2.5 M583.37 377.25 v-2.5 M606.65 272.80 v2.5 M606.65 377.25 v-2.5 M629.93 272.80 v2.5 M629.93 377.25 v-2.5 M653.22 272.80 v2.5 M653.22 377.25 v-2.5 M536.80 325.03 h2.5 M676.50 325.03 h-2.5 M560.08 377.35 v2.5 M560.08 481.80 v-2.5 M583.37 377.35 v2.5 M583.37 481.80 v-2.5 M606.65 377.35 v2.5 M606.65 481.80 v-2.5 M629.93 377.35 v2.5 M629.93 481.80 v-2.5 M653.22 377.35 v2.5 M653.22 481.80 v-2.5 M536.80 429.58 h2.5 M676.50 429.58 h-2.5 M560.08 481.90 v2.5 M560.08 586.35 v-2.5 M583.37 481.90 v2.5 M583.37 586.35 v-2.5 M606.65 481.90 v2.5 M606.65 586.35 v-2.5 M629.93 481.90 v2.5 M629.93 586.35 v-2.5 M653.22 481.90 v2.5 M653.22 586.35 v-2.5 M536.80 534.12 h2.5 M676.50 534.12 h-2.5" stroke="#282828" stroke-width="1" fill="none"/>
<rect x="536.80" y="272.80" width="139.70" height="313.35" fill="none" stroke="#282828" stroke-width="1.3"/>
<path d="M536.80 377.35 H676.50 M536.80 481.90 H676.50" stroke="#282828" stroke-width="1.3"/>
<text x="-0.30" y="19.80" font-size="21.50" text-anchor="start" fill="#000" stroke="#000" >a</text>
<text x="363.80" y="7.60" font-size="10.65" text-anchor="middle" fill="#000" stroke="#000" >Frequency (THz)</text>
<text x="66.45" y="25.60" font-size="10.60" text-anchor="middle" fill="#000" stroke="#000" >3.24</text>
<text x="66.45" y="224.90" font-size="10.60" text-anchor="middle" fill="#000" stroke="#000" ><tspan class="o1">1</tspan></text>
<text x="107.00" y="25.60" font-size="10.60" text-anchor="middle" fill="#000" stroke="#000" >3.94</text>
<text x="107.00" y="224.90" font-size="10.60" text-anchor="middle" fill="#000" stroke="#000" >2</text>
<text x="147.90" y="25.60" font-size="10.60" text-anchor="middle" fill="#000" stroke="#000" >3.95</text>
<text x="147.90" y="224.90" font-size="10.60" text-anchor="middle" fill="#000" stroke="#000" >3</text>
<text x="189.00" y="25.60" font-size="10.60" text-anchor="middle" fill="#000" stroke="#000" >4.46</text>
<text x="189.00" y="224.90" font-size="10.60" text-anchor="middle" fill="#000" stroke="#000" >4</text>
<text x="230.90" y="25.60" font-size="10.60" text-anchor="middle" fill="#000" stroke="#000" >4.96</text>
<text x="230.90" y="224.90" font-size="10.60" text-anchor="middle" fill="#000" stroke="#000" >5</text>
<text x="270.80" y="25.60" font-size="10.60" text-anchor="middle" fill="#000" stroke="#000" >5.02</text>
<text x="270.80" y="224.90" font-size="10.60" text-anchor="middle" fill="#000" stroke="#000" >6</text>
<text x="312.25" y="25.60" font-size="10.60" text-anchor="middle" fill="#000" stroke="#000" >5.6<tspan class="o1">1</tspan></text>
<text x="312.25" y="224.90" font-size="10.60" text-anchor="middle" fill="#000" stroke="#000" >7</text>
<text x="353.15" y="25.60" font-size="10.60" text-anchor="middle" fill="#000" stroke="#000" >6.44</text>
<text x="353.15" y="224.90" font-size="10.60" text-anchor="middle" fill="#000" stroke="#000" >8</text>
<text x="393.90" y="25.60" font-size="10.60" text-anchor="middle" fill="#000" stroke="#000" >6.55</text>
<text x="393.90" y="224.90" font-size="10.60" text-anchor="middle" fill="#000" stroke="#000" >9</text>
<text x="438.15" y="25.60" font-size="10.60" text-anchor="middle" fill="#000" stroke="#000" >7.62</text>
<text x="438.15" y="224.90" font-size="10.60" text-anchor="middle" fill="#000" stroke="#000" ><tspan class="o1">1</tspan>0</text>
<text x="477.25" y="25.60" font-size="10.60" text-anchor="middle" fill="#000" stroke="#000" >8.04</text>
<text x="477.25" y="224.90" font-size="10.60" text-anchor="middle" fill="#000" stroke="#000" ><tspan class="o1">1</tspan><tspan class="o1">1</tspan></text>
<text x="518.25" y="25.60" font-size="10.60" text-anchor="middle" fill="#000" stroke="#000" >8.93</text>
<text x="518.25" y="224.90" font-size="10.60" text-anchor="middle" fill="#000" stroke="#000" ><tspan class="o1">1</tspan>2</text>
<text x="559.00" y="25.60" font-size="10.60" text-anchor="middle" fill="#000" stroke="#000" >9.75</text>
<text x="559.00" y="224.90" font-size="10.60" text-anchor="middle" fill="#000" stroke="#000" ><tspan class="o1">1</tspan>3</text>
<text x="600.15" y="25.60" font-size="10.60" text-anchor="middle" fill="#000" stroke="#000" ><tspan class="o1">1</tspan>2.<tspan class="o1">1</tspan>7</text>
<text x="600.15" y="224.90" font-size="10.60" text-anchor="middle" fill="#000" stroke="#000" ><tspan class="o1">1</tspan>4</text>
<text x="640.60" y="25.60" font-size="10.60" text-anchor="middle" fill="#000" stroke="#000" ><tspan class="o1">1</tspan>3.94</text>
<text x="640.60" y="224.90" font-size="10.60" text-anchor="middle" fill="#000" stroke="#000" ><tspan class="o1">1</tspan>5</text>
<text x="39.60" y="39.20" font-size="10.60" text-anchor="end" fill="#000" stroke="#000" ><tspan class="o1">1</tspan></text>
<text x="39.60" y="211.70" font-size="10.60" text-anchor="end" fill="#000" stroke="#000" >0</text>
<text x="26.60" y="116.80" font-size="10.80" text-anchor="middle" fill="#000" stroke="#000" transform="rotate(-90 26.60 116.80)">Intensity (arb. units)</text>
<text x="362.80" y="243.70" font-size="10.60" text-anchor="middle" fill="#000" stroke="#000" >Sample Number</text>
<text x="44.70" y="416.70" font-size="10.60" text-anchor="end" fill="#000" stroke="#000" >0</text>
<text x="44.70" y="385.50" font-size="10.60" text-anchor="end" fill="#000" stroke="#000" >2</text>
<text x="44.70" y="353.50" font-size="10.60" text-anchor="end" fill="#000" stroke="#000" >4</text>
<text x="44.70" y="321.50" font-size="10.60" text-anchor="end" fill="#000" stroke="#000" >6</text>
<text x="44.70" y="289.50" font-size="10.60" text-anchor="end" fill="#000" stroke="#000" >8</text>
<text x="44.70" y="257.50" font-size="10.60" text-anchor="end" fill="#000" stroke="#000" ><tspan class="o1">1</tspan>0</text>
<text x="47.10" y="425.80" font-size="10.60" text-anchor="middle" fill="#000" stroke="#000" >0</text>
<text x="105.03" y="425.80" font-size="10.60" text-anchor="middle" fill="#000" stroke="#000" >0.5</text>
<text x="162.95" y="425.80" font-size="10.60" text-anchor="middle" fill="#000" stroke="#000" ><tspan class="o1">1</tspan></text>
<text x="220.87" y="425.80" font-size="10.60" text-anchor="middle" fill="#000" stroke="#000" ><tspan class="o1">1</tspan>.5</text>
<text x="277.60" y="425.80" font-size="10.60" text-anchor="middle" fill="#000" stroke="#000" >2</text>
<text x="284.00" y="425.80" font-size="10.60" text-anchor="start" fill="#000" stroke="#000" >×</text>
<text x="293.30" y="425.80" font-size="10.60" text-anchor="start" fill="#000" stroke="#000" ><tspan class="o1">1</tspan>0</text>
<text x="305.20" y="422.70" font-size="7.70" text-anchor="start" fill="#000" stroke="#000" >6</text>
<text x="27.70" y="333.40" font-size="10.60" text-anchor="middle" fill="#000" stroke="#000" transform="rotate(-90 27.7 333.40)">Frequency (THz)</text>
<text x="176.80" y="439.70" font-size="10.5" text-anchor="middle" fill="#000" stroke="#000"><tspan font-style="italic">k</tspan><tspan font-size="7.5" dy="2.2" font-style="italic">z</tspan><tspan dy="-2.2"> (rad·m</tspan><tspan font-size="7" dy="-3.3">-<tspan class="o1">1</tspan></tspan><tspan dy="3.3">)</tspan></text>
<text x="71.30" y="238.50" font-size="10.60" text-anchor="middle" fill="#8a6f22" stroke="#8a6f22" >Free space</text>
<text x="71.30" y="250.80" font-size="10.60" text-anchor="middle" fill="#8a6f22" stroke="#8a6f22" >radiation</text>
<text x="56.2" y="366.20" font-size="10.7" fill="#000" stroke="#000"><tspan font-style="italic">ω</tspan>=<tspan font-style="italic">c</tspan>·|<tspan font-weight="bold">k</tspan><tspan font-weight="bold" font-size="7.5" dy="2.4">0</tspan><tspan dy="-2.4">|</tspan></text>
<text x="131.6" y="384.50" font-size="10.75" fill="#000" stroke="#000"><tspan font-style="italic">ω</tspan>=<tspan font-style="italic">u</tspan><tspan font-style="italic" font-size="7.5" dy="2.4">0</tspan><tspan dy="-2.4">·|</tspan><tspan font-weight="bold">k</tspan><tspan font-weight="bold" font-size="7.5" dy="2.4">z</tspan><tspan dy="-2.4">|</tspan></text>
<text x="44.70" y="627.70" font-size="10.60" text-anchor="end" fill="#000" stroke="#000" >0</text>
<text x="44.70" y="596.50" font-size="10.60" text-anchor="end" fill="#000" stroke="#000" >2</text>
<text x="44.70" y="564.50" font-size="10.60" text-anchor="end" fill="#000" stroke="#000" >4</text>
<text x="44.70" y="532.50" font-size="10.60" text-anchor="end" fill="#000" stroke="#000" >6</text>
<text x="44.70" y="500.50" font-size="10.60" text-anchor="end" fill="#000" stroke="#000" >8</text>
<text x="44.70" y="468.50" font-size="10.60" text-anchor="end" fill="#000" stroke="#000" ><tspan class="o1">1</tspan>0</text>
<text x="47.10" y="636.80" font-size="10.60" text-anchor="middle" fill="#000" stroke="#000" >0</text>
<text x="105.03" y="636.80" font-size="10.60" text-anchor="middle" fill="#000" stroke="#000" >0.5</text>
<text x="162.95" y="636.80" font-size="10.60" text-anchor="middle" fill="#000" stroke="#000" ><tspan class="o1">1</tspan></text>
<text x="220.87" y="636.80" font-size="10.60" text-anchor="middle" fill="#000" stroke="#000" ><tspan class="o1">1</tspan>.5</text>
<text x="277.60" y="636.80" font-size="10.60" text-anchor="middle" fill="#000" stroke="#000" >2</text>
<text x="284.00" y="636.80" font-size="10.60" text-anchor="start" fill="#000" stroke="#000" >×</text>
<text x="293.30" y="636.80" font-size="10.60" text-anchor="start" fill="#000" stroke="#000" ><tspan class="o1">1</tspan>0</text>
<text x="305.20" y="633.70" font-size="7.70" text-anchor="start" fill="#000" stroke="#000" >6</text>
<text x="27.70" y="544.40" font-size="10.60" text-anchor="middle" fill="#000" stroke="#000" transform="rotate(-90 27.7 544.40)">Frequency (THz)</text>
<text x="176.80" y="650.70" font-size="10.5" text-anchor="middle" fill="#000" stroke="#000"><tspan font-style="italic">k</tspan><tspan font-size="7.5" dy="2.2" font-style="italic">z</tspan><tspan dy="-2.2"> (rad·m</tspan><tspan font-size="7" dy="-3.3">-<tspan class="o1">1</tspan></tspan><tspan dy="3.3">)</tspan></text>
<text x="71.30" y="449.50" font-size="10.60" text-anchor="middle" fill="#8a6f22" stroke="#8a6f22" >Free space</text>
<text x="71.30" y="461.80" font-size="10.60" text-anchor="middle" fill="#8a6f22" stroke="#8a6f22" >radiation</text>
<text x="56.2" y="577.20" font-size="10.7" fill="#000" stroke="#000"><tspan font-style="italic">ω</tspan>=<tspan font-style="italic">c</tspan>·|<tspan font-weight="bold">k</tspan><tspan font-weight="bold" font-size="7.5" dy="2.4">0</tspan><tspan dy="-2.4">|</tspan></text>
<text x="131.6" y="595.50" font-size="10.75" fill="#000" stroke="#000"><tspan font-style="italic">ω</tspan>=<tspan font-style="italic">u</tspan><tspan font-style="italic" font-size="7.5" dy="2.4">0</tspan><tspan dy="-2.4">·|</tspan><tspan font-weight="bold">k</tspan><tspan font-weight="bold" font-size="7.5" dy="2.4">z</tspan><tspan dy="-2.4">|</tspan></text>
<text x="-0.30" y="244.00" font-size="21.50" text-anchor="start" fill="#000" stroke="#000" >b</text>
<text x="-1.00" y="455.70" font-size="21.50" text-anchor="start" fill="#000" stroke="#000" >c</text>
<text x="233.30" y="273.70" font-size="9.7" letter-spacing="-0.3" fill="#000" stroke="#000"><tspan font-style="italic">E</tspan>=2.6 keV</text>
<text x="242.60" y="291.80" font-size="9.7" letter-spacing="-0.3" fill="#000" stroke="#000"><tspan font-style="italic">E</tspan>=2.0 keV</text>
<text x="248.40" y="308.10" font-size="9.7" letter-spacing="-0.3" fill="#000" stroke="#000"><tspan font-style="italic">E</tspan>=<tspan class="o1">1</tspan>.4 keV</text>
<text x="239.10" y="503.90" font-size="9.7" letter-spacing="-0.3" fill="#000" stroke="#000"><tspan font-style="italic">E</tspan>=2.0 keV</text>
<text x="84.60" y="310.00" font-size="10.8" fill="#ee2a24" stroke="#ee2a24">2π<tspan font-style="italic">n</tspan>/<tspan font-style="italic">p</tspan>, <tspan font-style="italic">p</tspan>=5 μm</text>
<text x="133.40" y="479.90" font-size="10.8" fill="#fdb863" stroke="#fdb863">2π<tspan font-style="italic">n</tspan>/<tspan font-style="italic">p</tspan>, <tspan font-style="italic">p</tspan>=3 μm</text>
<text x="103.60" y="513.10" font-size="10.8" fill="#7b78bd" stroke="#7b78bd">2π<tspan font-style="italic">n</tspan>/<tspan font-style="italic">p</tspan>, <tspan font-style="italic">p</tspan>=4 μm</text>
<text x="85.20" y="535.90" font-size="10.8" fill="#ee2a24" stroke="#ee2a24">2π<tspan font-style="italic">n</tspan>/<tspan font-style="italic">p</tspan>, <tspan font-style="italic">p</tspan>=5 μm</text>
<text x="355.90" y="281.20" font-size="10.20" text-anchor="end" fill="#000" stroke="#000" ><tspan class="o1">1</tspan></text>
<text x="356.10" y="376.65" font-size="10.20" text-anchor="end" fill="#000" stroke="#000" >0</text>
<text x="355.90" y="386.65" font-size="10.20" text-anchor="end" fill="#000" stroke="#000" ><tspan class="o1">1</tspan></text>
<text x="356.10" y="481.20" font-size="10.20" text-anchor="end" fill="#000" stroke="#000" >0</text>
<text x="355.90" y="491.20" font-size="10.20" text-anchor="end" fill="#000" stroke="#000" ><tspan class="o1">1</tspan></text>
<text x="356.10" y="585.75" font-size="10.20" text-anchor="end" fill="#000" stroke="#000" >0</text>
<text x="359.50" y="598.40" font-size="10.60" text-anchor="middle" fill="#000" stroke="#000" >3</text>
<text x="382.65" y="598.40" font-size="10.60" text-anchor="middle" fill="#000" stroke="#000" >4</text>
<text x="405.80" y="598.40" font-size="10.60" text-anchor="middle" fill="#000" stroke="#000" >5</text>
<text x="428.95" y="598.40" font-size="10.60" text-anchor="middle" fill="#000" stroke="#000" >6</text>
<text x="452.10" y="598.40" font-size="10.60" text-anchor="middle" fill="#000" stroke="#000" >7</text>
<text x="475.25" y="598.40" font-size="10.60" text-anchor="middle" fill="#000" stroke="#000" >8</text>
<text x="498.40" y="598.40" font-size="10.60" text-anchor="middle" fill="#000" stroke="#000" >9</text>
<text x="428.95" y="613.70" font-size="10.60" text-anchor="middle" fill="#000" stroke="#000" >Frequency (THz)</text>
<text x="343.30" y="430.78" font-size="10.60" text-anchor="middle" fill="#000" stroke="#000" transform="rotate(-90 343.30 430.78)">Intensity (arb. units)</text>
<text x="533.20" y="281.20" font-size="10.20" text-anchor="end" fill="#000" stroke="#000" ><tspan class="o1">1</tspan></text>
<text x="533.40" y="376.65" font-size="10.20" text-anchor="end" fill="#000" stroke="#000" >0</text>
<text x="533.20" y="386.65" font-size="10.20" text-anchor="end" fill="#000" stroke="#000" ><tspan class="o1">1</tspan></text>
<text x="533.40" y="481.20" font-size="10.20" text-anchor="end" fill="#000" stroke="#000" >0</text>
<text x="533.20" y="491.20" font-size="10.20" text-anchor="end" fill="#000" stroke="#000" ><tspan class="o1">1</tspan></text>
<text x="533.40" y="585.75" font-size="10.20" text-anchor="end" fill="#000" stroke="#000" >0</text>
<text x="536.80" y="598.40" font-size="10.60" text-anchor="middle" fill="#000" stroke="#000" >3</text>
<text x="560.08" y="598.40" font-size="10.60" text-anchor="middle" fill="#000" stroke="#000" >4</text>
<text x="583.37" y="598.40" font-size="10.60" text-anchor="middle" fill="#000" stroke="#000" >5</text>
<text x="606.65" y="598.40" font-size="10.60" text-anchor="middle" fill="#000" stroke="#000" >6</text>
<text x="629.93" y="598.40" font-size="10.60" text-anchor="middle" fill="#000" stroke="#000" >7</text>
<text x="653.22" y="598.40" font-size="10.60" text-anchor="middle" fill="#000" stroke="#000" >8</text>
<text x="676.50" y="598.40" font-size="10.60" text-anchor="middle" fill="#000" stroke="#000" >9</text>
<text x="606.65" y="613.70" font-size="10.60" text-anchor="middle" fill="#000" stroke="#000" >Frequency (THz)</text>
<text x="520.80" y="430.78" font-size="10.60" text-anchor="middle" fill="#000" stroke="#000" transform="rotate(-90 520.80 430.78)">Intensity (arb. units)</text>
<text x="326.20" y="277.70" font-size="21.50" text-anchor="start" fill="#000" stroke="#000" >d</text>
<text x="507.60" y="277.70" font-size="21.50" text-anchor="start" fill="#000" stroke="#000" >e</text>
<text x="360.60" y="287.30" font-size="10.9" fill="#000" stroke="#000"><tspan font-style="italic">f</tspan> =5.6<tspan class="o1">1</tspan> THz</text>
<text x="413.20" y="391.80" font-size="10.9" fill="#000" stroke="#000"><tspan font-style="italic">f</tspan> =4.96 THz</text>
<text x="387.20" y="497.70" font-size="10.9" fill="#000" stroke="#000"><tspan font-style="italic">f</tspan> =3.95 THz</text>
<text x="588.20" y="286.80" font-size="10.9" fill="#000" stroke="#000"><tspan font-style="italic">f</tspan> =8.04 THz</text>
<text x="557.00" y="391.80" font-size="10.9" fill="#000" stroke="#000"><tspan font-style="italic">f</tspan> =6.55 THz</text>
<text x="596.40" y="498.30" font-size="10.9" fill="#000" stroke="#000"><tspan font-style="italic">f</tspan> =4.96 THz</text>
<text x="440.80" y="326.00" font-size="10.6" fill="#f7aebd" stroke="#f7aebd"><tspan font-style="italic">E</tspan> =2.6 keV</text>
<text x="440.80" y="431.90" font-size="10.6" fill="#ef3b2c" stroke="#ef3b2c"><tspan font-style="italic">E</tspan> =2.0 keV</text>
<text x="440.00" y="534.70" font-size="10.6" fill="#c0172f" stroke="#c0172f"><tspan font-style="italic">E</tspan> =<tspan class="o1">1</tspan>.4 keV</text>
<text x="547.20" y="330.80" font-size="10.8" fill="#f6b02c" stroke="#f6b02c"><tspan font-style="italic">p</tspan> =3 μm</text>
<text x="547.60" y="415.60" font-size="10.8" fill="#7b78bd" stroke="#7b78bd"><tspan font-style="italic">p</tspan> =4 μm</text>
<text x="630.80" y="538.60" font-size="10.8" fill="#ef3b2c" stroke="#ef3b2c"><tspan font-style="italic">p</tspan> =5 μm</text>
<path d="M66.16 224.90 L66.16 218.50 L64.52 219.67 L64.52 218.79 L66.24 217.61 L67.10 217.61 L67.10 224.90 Z" fill="rgb(0, 0, 0)" stroke="rgb(0, 0, 0)" stroke-width="0.15"/>
<path d="M319.33 25.60 L319.33 19.20 L317.68 20.37 L317.68 19.49 L319.41 18.31 L320.27 18.31 L320.27 25.60 Z" fill="rgb(0, 0, 0)" stroke="rgb(0, 0, 0)" stroke-width="0.15"/>
<path d="M434.91 224.90 L434.91 218.50 L433.26 219.67 L433.26 218.79 L434.99 217.61 L435.85 217.61 L435.85 224.90 Z" fill="rgb(0, 0, 0)" stroke="rgb(0, 0, 0)" stroke-width="0.15"/>
<path d="M474.41 224.90 L474.41 218.50 L472.76 219.67 L472.76 218.79 L474.49 217.61 L475.34 217.61 L475.34 224.90 Z" fill="rgb(0, 0, 0)" stroke="rgb(0, 0, 0)" stroke-width="0.15"/>
<path d="M479.52 224.90 L479.52 218.50 L477.87 219.67 L477.87 218.79 L479.59 217.61 L480.45 217.61 L480.45 224.90 Z" fill="rgb(0, 0, 0)" stroke="rgb(0, 0, 0)" stroke-width="0.15"/>
<path d="M515.01 224.90 L515.01 218.50 L513.36 219.67 L513.36 218.79 L515.09 217.61 L515.95 217.61 L515.95 224.90 Z" fill="rgb(0, 0, 0)" stroke="rgb(0, 0, 0)" stroke-width="0.15"/>
<path d="M555.76 224.90 L555.76 218.50 L554.11 219.67 L554.11 218.79 L555.84 217.61 L556.70 217.61 L556.70 224.90 Z" fill="rgb(0, 0, 0)" stroke="rgb(0, 0, 0)" stroke-width="0.15"/>
<path d="M589.53 25.60 L589.53 19.20 L587.89 20.37 L587.89 19.49 L589.61 18.31 L590.47 18.31 L590.47 25.60 Z" fill="rgb(0, 0, 0)" stroke="rgb(0, 0, 0)" stroke-width="0.15"/>
<path d="M604.28 25.60 L604.28 19.20 L602.64 20.37 L602.64 19.49 L604.36 18.31 L605.22 18.31 L605.22 25.60 Z" fill="rgb(0, 0, 0)" stroke="rgb(0, 0, 0)" stroke-width="0.15"/>
<path d="M596.91 224.90 L596.91 218.50 L595.26 219.67 L595.26 218.79 L596.99 217.61 L597.85 217.61 L597.85 224.90 Z" fill="rgb(0, 0, 0)" stroke="rgb(0, 0, 0)" stroke-width="0.15"/>
<path d="M630.00 25.60 L630.00 19.20 L628.35 20.37 L628.35 19.49 L630.08 18.31 L630.94 18.31 L630.94 25.60 Z" fill="rgb(0, 0, 0)" stroke="rgb(0, 0, 0)" stroke-width="0.15"/>
<path d="M637.36 224.90 L637.36 218.50 L635.71 219.67 L635.71 218.79 L637.44 217.61 L638.30 217.61 L638.30 224.90 Z" fill="rgb(0, 0, 0)" stroke="rgb(0, 0, 0)" stroke-width="0.15"/>
<path d="M36.36 39.20 L36.36 32.80 L34.71 33.97 L34.71 33.09 L36.44 31.91 L37.30 31.91 L37.30 39.20 Z" fill="rgb(0, 0, 0)" stroke="rgb(0, 0, 0)" stroke-width="0.15"/>
<path d="M35.55 257.50 L35.55 251.10 L33.91 252.27 L33.91 251.39 L35.63 250.21 L36.49 250.21 L36.49 257.50 Z" fill="rgb(0, 0, 0)" stroke="rgb(0, 0, 0)" stroke-width="0.15"/>
<path d="M162.66 425.80 L162.66 419.40 L161.02 420.57 L161.02 419.69 L162.74 418.51 L163.60 418.51 L163.60 425.80 Z" fill="rgb(0, 0, 0)" stroke="rgb(0, 0, 0)" stroke-width="0.15"/>
<path d="M216.16 425.80 L216.16 419.40 L214.51 420.57 L214.51 419.69 L216.24 418.51 L217.10 418.51 L217.10 425.80 Z" fill="rgb(0, 0, 0)" stroke="rgb(0, 0, 0)" stroke-width="0.15"/>
<path d="M295.97 425.80 L295.97 419.40 L294.32 420.57 L294.32 419.69 L296.04 418.51 L296.90 418.51 L296.90 425.80 Z" fill="rgb(0, 0, 0)" stroke="rgb(0, 0, 0)" stroke-width="0.15"/>
<path d="M197.45 436.40 L197.45 432.17 L196.36 432.95 L196.36 432.37 L197.50 431.58 L198.07 431.58 L198.07 436.40 Z" fill="rgb(0, 0, 0)" stroke="rgb(0, 0, 0)" stroke-width="0.15"/>
<path d="M35.55 468.50 L35.55 462.10 L33.91 463.27 L33.91 462.39 L35.63 461.21 L36.49 461.21 L36.49 468.50 Z" fill="rgb(0, 0, 0)" stroke="rgb(0, 0, 0)" stroke-width="0.15"/>
<path d="M162.66 636.80 L162.66 630.40 L161.02 631.57 L161.02 630.69 L162.74 629.51 L163.60 629.51 L163.60 636.80 Z" fill="rgb(0, 0, 0)" stroke="rgb(0, 0, 0)" stroke-width="0.15"/>
<path d="M216.16 636.80 L216.16 630.40 L214.51 631.57 L214.51 630.69 L216.24 629.51 L217.10 629.51 L217.10 636.80 Z" fill="rgb(0, 0, 0)" stroke="rgb(0, 0, 0)" stroke-width="0.15"/>
<path d="M295.97 636.80 L295.97 630.40 L294.32 631.57 L294.32 630.69 L296.04 629.51 L296.90 629.51 L296.90 636.80 Z" fill="rgb(0, 0, 0)" stroke="rgb(0, 0, 0)" stroke-width="0.15"/>
<path d="M197.45 647.40 L197.45 643.17 L196.36 643.95 L196.36 643.37 L197.50 642.58 L198.07 642.58 L198.07 647.40 Z" fill="rgb(0, 0, 0)" stroke="rgb(0, 0, 0)" stroke-width="0.15"/>
<path d="M262.37 308.10 L262.37 302.24 L260.86 303.32 L260.86 302.51 L262.44 301.43 L263.23 301.43 L263.23 308.10 Z" fill="rgb(0, 0, 0)" stroke="rgb(0, 0, 0)" stroke-width="0.15"/>
<path d="M352.79 281.20 L352.79 275.04 L351.21 276.17 L351.21 275.32 L352.87 274.18 L353.69 274.18 L353.69 281.20 Z" fill="rgb(0, 0, 0)" stroke="rgb(0, 0, 0)" stroke-width="0.15"/>
<path d="M352.79 386.65 L352.79 380.49 L351.21 381.62 L351.21 380.77 L352.87 379.63 L353.69 379.63 L353.69 386.65 Z" fill="rgb(0, 0, 0)" stroke="rgb(0, 0, 0)" stroke-width="0.15"/>
<path d="M352.79 491.20 L352.79 485.04 L351.21 486.17 L351.21 485.32 L352.87 484.18 L353.69 484.18 L353.69 491.20 Z" fill="rgb(0, 0, 0)" stroke="rgb(0, 0, 0)" stroke-width="0.15"/>
<path d="M530.09 281.20 L530.09 275.04 L528.51 276.17 L528.51 275.32 L530.17 274.18 L530.99 274.18 L530.99 281.20 Z" fill="rgb(0, 0, 0)" stroke="rgb(0, 0, 0)" stroke-width="0.15"/>
<path d="M530.09 386.65 L530.09 380.49 L528.51 381.62 L528.51 380.77 L530.17 379.63 L530.99 379.63 L530.99 386.65 Z" fill="rgb(0, 0, 0)" stroke="rgb(0, 0, 0)" stroke-width="0.15"/>
<path d="M530.09 491.20 L530.09 485.04 L528.51 486.17 L528.51 485.32 L530.17 484.18 L530.99 484.18 L530.99 491.20 Z" fill="rgb(0, 0, 0)" stroke="rgb(0, 0, 0)" stroke-width="0.15"/>
<path d="M390.90 287.30 L390.90 280.72 L389.21 281.92 L389.21 281.02 L390.98 279.80 L391.87 279.80 L391.87 287.30 Z" fill="rgb(0, 0, 0)" stroke="rgb(0, 0, 0)" stroke-width="0.15"/>
<path d="M458.88 534.70 L458.88 528.30 L457.24 529.47 L457.24 528.59 L458.96 527.41 L459.82 527.41 L459.82 534.70 Z" fill="rgb(192, 23, 47)" stroke="rgb(192, 23, 47)" stroke-width="0.15"/>
</svg>
</body></html>
